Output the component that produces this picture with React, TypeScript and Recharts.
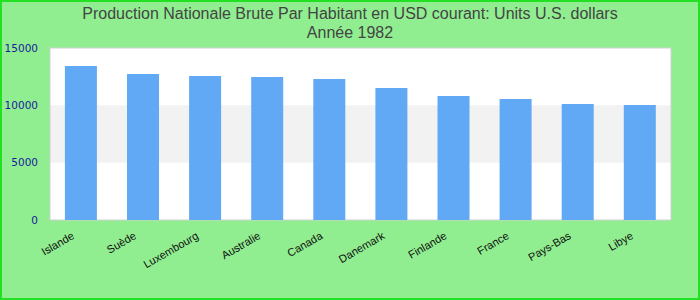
import { BarChart, Bar, XAxis, YAxis, CartesianGrid, ReferenceArea } from 'recharts'

const countries = [
  'Islande',
  'Suède',
  'Luxembourg',
  'Australie',
  'Canada',
  'Danemark',
  'Finlande',
  'France',
  'Pays-Bas',
  'Libye',
]
const gnpPerCapita = [13430, 12730, 12560, 12470, 12300, 11510, 10810, 10550, 10120, 10030]
const yTicks = [0, 5000, 10000, 15000]

const data = countries.map((country, i) => ({ country, value: gnpPerCapita[i] }))

function CountryTick(props: any) {
  const { x, y, payload } = props
  return (
    <g transform={`translate(${x - 6},${y + 10}) rotate(-30)`}>
      <text
        x={0}
        y={0}
        textAnchor="end"
        fill="#111"
        fontSize={11}
        fontFamily="'Liberation Sans', Arial, sans-serif"
      >
        {payload.value}
      </text>
    </g>
  )
}

export default function App() {
  return (
    <div
      style={{
        position: 'fixed',
        left: 0,
        top: 0,
        width: 700,
        height: 300,
        background: '#90ee90',
        boxShadow: 'inset 0 0 0 2px #22e022',
      }}
    >
      <div
        style={{
          position: 'absolute',
          left: 0,
          top: 4,
          width: 700,
          textAlign: 'center',
          color: '#444',
          fontFamily: "'Liberation Sans', Arial, sans-serif",
          fontSize: 16,
          lineHeight: '19px',
        }}
      >
        <div>Production Nationale Brute Par Habitant en USD courant: Units U.S. dollars</div>
        <div>Année 1982</div>
      </div>
      <BarChart
        width={700}
        height={300}
        data={data}
        margin={{ top: 48, right: 29, bottom: 50, left: 8 }}
        barCategoryGap="24%"
        style={{ position: 'absolute', left: 0, top: 0 }}
      >
        <CartesianGrid horizontal={false} vertical={false} fill="#ffffff" />
        <ReferenceArea y1={5000} y2={10000} fill="#f2f2f2" fillOpacity={1} stroke="none" />
        <XAxis
          dataKey="country"
          height={30}
          axisLine={false}
          tickLine={false}
          interval={0}
          tick={<CountryTick />}
        />
        <YAxis
          width={42}
          domain={[0, 15000]}
          ticks={yTicks}
          axisLine={false}
          tickLine={false}
          tickMargin={6}
          tick={{ fill: '#1a1a9c', fontSize: 10.5, fontFamily: "'DejaVu Sans', sans-serif" }}
        />
        <Bar dataKey="value" fill="#61a9f4" isAnimationActive={false} />
        <ReferenceArea y1={0} y2={15000} fill="none" stroke="#d0d0d0" strokeWidth={1} />
      </BarChart>
    </div>
  )
}
